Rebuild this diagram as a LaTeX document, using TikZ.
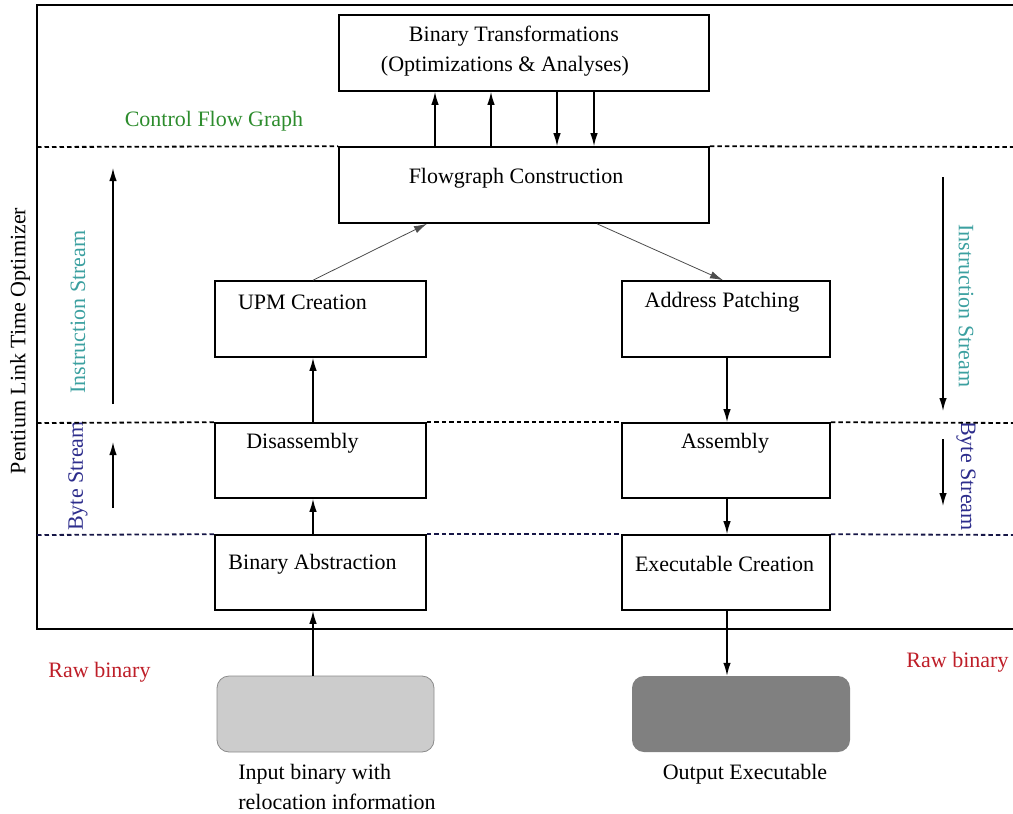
\documentclass[tikz,border=0pt]{standalone}
\usepackage{fontspec}
\IfFontExistsTF{LiberationSerif-Regular.ttf}
  {\setmainfont{LiberationSerif}[Extension=.ttf,UprightFont=*-Regular,BoldFont=*-Bold,ItalicFont=*-Italic,BoldItalicFont=*-BoldItalic]}
  {\setmainfont{Liberation Serif}}
\usetikzlibrary{arrows.meta,calc}
\definecolor{cfggreen}{RGB}{45,140,45}
\definecolor{insteal}{RGB}{60,160,160}
\definecolor{bytenavy}{RGB}{45,45,140}
\definecolor{rawred}{RGB}{190,30,40}
\definecolor{infill}{RGB}{204,204,204}
\definecolor{outfill}{RGB}{128,128,128}
\begin{document}
\begin{tikzpicture}[x=1pt,y=-1pt,
  box/.style={draw, line width=1.6pt, inner sep=0pt, minimum height=76pt},
  lbl/.style={font=\fontsize{22}{30}\selectfont, inner sep=0pt},
  arr/.style={line width=1.4pt, -{Latex[length=13pt,width=7.5pt]}},
  thinarr/.style={line width=0.8pt, draw=black!70, -{Latex[length=13pt,width=7.5pt]}},
  dashline/.style={line width=1.8pt, dash pattern=on 4.5pt off 3pt},
  rawbox/.style={rounded corners=12pt, minimum width=217pt, minimum height=76pt, inner sep=0pt}]
\useasboundingbox (0,0) rectangle (1013,814);

% outer frame
\draw[line width=1.6pt] (1014,5) -- (37,5) -- (37,629) -- (1014,629);

% boxes
\node[box, minimum width=370pt] (bt) at (524,53) {};
\node[box, minimum width=370pt] (fc) at (524,185) {};
\node[box, minimum width=211pt] (upm) at (320.5,319) {};
\node[box, minimum width=208pt] (ap) at (726,319) {};
\node[box, minimum width=211pt, minimum height=75pt] (dis) at (320.5,460.5) {};
\node[box, minimum width=208pt, minimum height=75pt] (asm) at (726,460.5) {};
\node[box, minimum width=211pt, minimum height=75pt] (ba) at (320.5,572.5) {};
\node[box, minimum width=208pt, minimum height=75pt] (ec) at (726,572.5) {};
\node[rawbox, fill=infill, draw=black!45, line width=0.8pt] (inp) at (325.5,714) {};
\node[rawbox, fill=outfill, minimum width=218pt] (outp) at (741,714) {};

% box texts
\node[lbl] (btA) at (514,36) {Binary Transformations};
\node[lbl] (btB) at (505,66) {(Optimizations \& Analyses)};
\node[lbl] (fcT) at (516,178) {Flowgraph Construction};
\node[lbl] (upmT) at (302.5,302) {UPM Creation};
\node[lbl] (apT) at (722,302) {Address Patching};
\node[lbl] (disT) at (302.5,443) {Disassembly};
\node[lbl] (asmT) at (725,443) {Assembly};
\node[lbl] (baT) at (312.5,564) {Binary Abstraction};
\node[lbl] (ecT) at (724.5,564) {Executable Creation};
\node[lbl, align=left] (inT) at (337,787) {Input binary with\\relocation information};
\node[lbl] (outT) at (745,774) {Output Executable};

% side labels
\node[lbl, text=cfggreen] (cfg) at (214,121) {Control Flow Graph};
\node[lbl, rotate=90] (plto) at (20,341) {Pentium Link Time Optimizer};
\node[lbl, rotate=90, text=insteal] (isL) at (78,312) {Instruction Stream};
\node[lbl, rotate=-90, text=insteal] (isR) at (966,306) {Instruction Stream};
\node[lbl, rotate=90, text=bytenavy] (bsL) at (78,476) {Byte Stream};
\node[lbl, rotate=-90, text=bytenavy] (bsR) at (966,476) {Byte Stream};
\node[lbl, text=rawred] (rawL) at (99.5,672) {Raw binary};
\node[lbl, text=rawred] (rawR) at (957.5,662) {Raw binary};

% dashed level lines
\coordinate (d1L) at (37,147);  \coordinate (d1R) at (1013,147);
\coordinate (d2L) at (37,423);  \coordinate (d2R) at (1013,423);
\coordinate (d3L) at (37,535);  \coordinate (d3R) at (1013,535);
\draw[dashline] (d1L) -- (fc.north west);
\draw[dashline] (fc.north east) -- (d1R);
\draw[dashline] (d2L) -- (dis.north west);
\draw[dashline] (dis.north east) -- (asm.north west);
\draw[dashline] (asm.north east) -- (d2R);
\draw[dashline, draw=bytenavy!50!black] (d3L) -- (ba.north west);
\draw[dashline, draw=bytenavy!50!black] (ba.north east) -- (ec.north west);
\draw[dashline, draw=bytenavy!50!black] (ec.north east) -- (d3R);

% arrows between flowgraph and transformations
\draw[arr] ([xshift=-89pt]fc.north) -- ([xshift=-89pt]bt.south);
\draw[arr] ([xshift=-33pt]fc.north) -- ([xshift=-33pt]bt.south);
\draw[arr] ([xshift=33pt]bt.south) -- ([xshift=33pt]fc.north);
\draw[arr] ([xshift=70pt]bt.south) -- ([xshift=70pt]fc.north);

% main flow
\draw[thinarr] ([xshift=-7.5pt]upm.north) -- ([xshift=-97pt]fc.south);
\draw[thinarr] ([xshift=73pt]fc.south) -- ([xshift=-3pt]ap.north);
\draw[arr] ([xshift=-7.5pt]dis.north) -- ([xshift=-7.5pt]upm.south);
\draw[arr] ([xshift=-7.5pt]ba.north) -- ([xshift=-7.5pt]dis.south);
\draw[arr] ([xshift=-12.5pt]inp.north) -- ([xshift=-7.5pt]ba.south);
\draw[arr] ([xshift=1pt]ap.south) -- ([xshift=1pt]asm.north);
\draw[arr] ([xshift=1pt]asm.south) -- ([xshift=1pt]ec.north);
\draw[arr] ([xshift=1pt]ec.south) -- ([xshift=-14pt]outp.north);

% stream direction arrows
\coordinate (laS) at (113,404); \coordinate (laE) at (113,168);
\coordinate (lbS) at (113,508); \coordinate (lbE) at (113,442);
\coordinate (raS) at (943,177); \coordinate (raE) at (943,411);
\coordinate (rbS) at (943,439); \coordinate (rbE) at (943,506);
\draw[arr] (laS) -- (laE);
\draw[arr] (lbS) -- (lbE);
\draw[arr] (raS) -- (raE);
\draw[arr] (rbS) -- (rbE);
\end{tikzpicture}
\end{document}
